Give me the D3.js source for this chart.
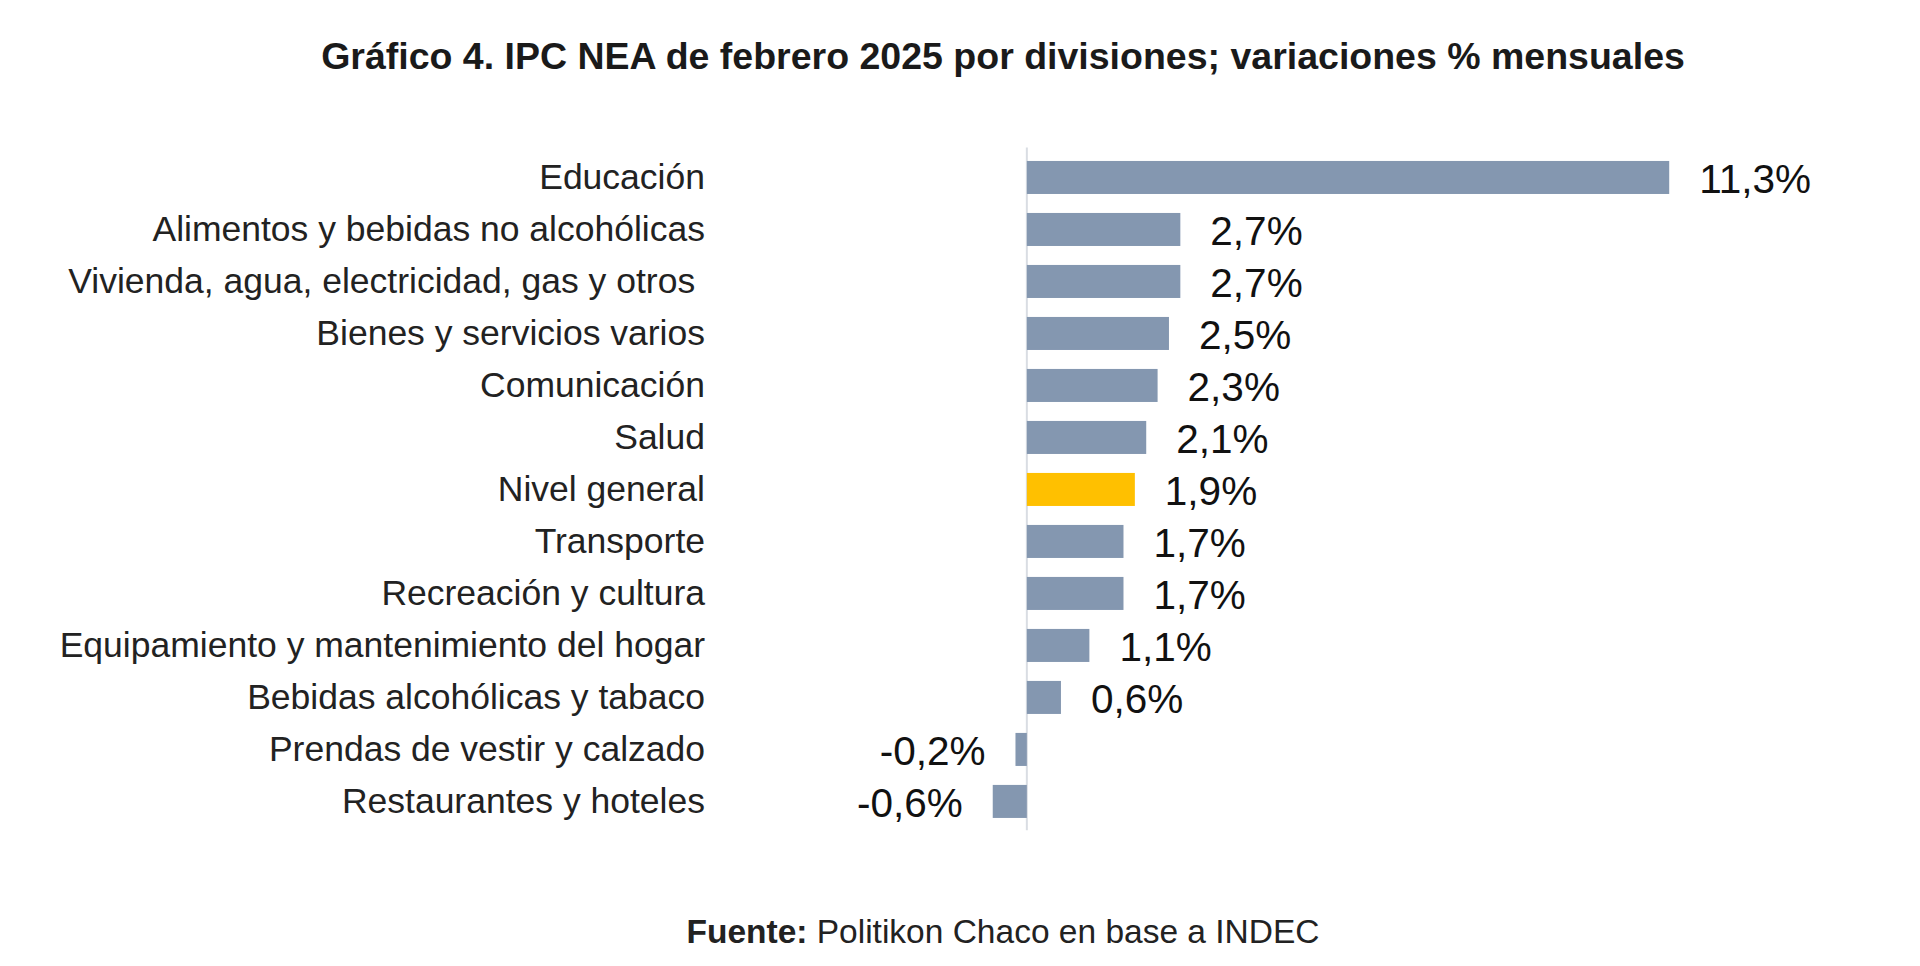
<!DOCTYPE html>
<html>
<head>
<meta charset="utf-8">
<script src="https://cdn.jsdelivr.net/npm/d3@7"></script>
<style>
  html, body { margin: 0; padding: 0; background: #ffffff; }
  svg { display: block; }
  text { font-family: "Liberation Sans", Arial, sans-serif; }
</style>
</head>
<body>
<svg id="chart" width="1920" height="966"></svg>
<script>
const categories = [
  "Educación",
  "Alimentos y bebidas no alcohólicas",
  "Vivienda, agua, electricidad, gas y otros ",
  "Bienes y servicios varios",
  "Comunicación",
  "Salud",
  "Nivel general",
  "Transporte",
  "Recreación y cultura",
  "Equipamiento y mantenimiento del hogar",
  "Bebidas alcohólicas y tabaco",
  "Prendas de vestir y calzado",
  "Restaurantes y hoteles"
];
const values = [11.3, 2.7, 2.7, 2.5, 2.3, 2.1, 1.9, 1.7, 1.7, 1.1, 0.6, -0.2, -0.6];
const highlight = ["Nivel general"];
const titleText = "Gráfico 4. IPC NEA de febrero 2025 por divisiones; variaciones % mensuales";
const sourceBold = "Fuente:";
const sourceText = " Politikon Chaco en base a INDEC";

const data = categories.map((c, i) => ({ cat: c, val: values[i] }));

const svg = d3.select("#chart");

const x = d3.scaleLinear().domain([-1, 12]).range([970, 1709]);
const y = d3.scaleBand().domain(categories).range([151.6, 827.3])
  .paddingInner(0.365).paddingOuter(0.18);

const fmt = v => d3.format(".1f")(v).replace(".", ",").replace("\u2212", "-") + "%";

// Title
svg.append("text")
  .attr("x", 1003).attr("y", 69)
  .attr("text-anchor", "middle")
  .attr("font-size", 37.5).attr("font-weight", "bold")
  .attr("fill", "#1a1a1a")
  .text(titleText);

// zero axis line
svg.append("line")
  .attr("x1", x(0)).attr("x2", x(0))
  .attr("y1", y.range()[0] - 4).attr("y2", y.range()[1] + 3)
  .attr("stroke", "#d9dde3").attr("stroke-width", 2);

// bars
svg.append("g").selectAll("rect").data(data).join("rect")
  .attr("x", d => x(Math.min(0, d.val)))
  .attr("y", d => y(d.cat))
  .attr("width", d => Math.abs(x(d.val) - x(0)))
  .attr("height", y.bandwidth())
  .attr("fill", d => highlight.includes(d.cat) ? "#ffc000" : "#8497b0");

// category labels
svg.append("g").selectAll("text").data(data).join("text")
  .attr("x", 705)
  .attr("y", d => y(d.cat) + y.bandwidth() / 2 + 12)
  .attr("text-anchor", "end")
  .attr("font-size", 35.5)
  .attr("fill", "#222")
  .attr("xml:space", "preserve")
  .style("white-space", "pre")
  .text(d => d.cat);

// value labels
svg.append("g").selectAll("text").data(data).join("text")
  .attr("x", d => d.val >= 0 ? x(d.val) + 30 : x(d.val) - 30)
  .attr("y", d => y(d.cat) + y.bandwidth() / 2 + 16)
  .attr("text-anchor", d => d.val >= 0 ? "start" : "end")
  .attr("font-size", 40.5)
  .attr("fill", "#111")
  .text(d => fmt(d.val));

// source
const src = svg.append("text")
  .attr("x", 1003).attr("y", 943)
  .attr("text-anchor", "middle")
  .attr("font-size", 33.5)
  .attr("fill", "#222")
  .attr("xml:space", "preserve");
src.append("tspan").attr("font-weight", "bold").text(sourceBold);
src.append("tspan").text(sourceText);
</script>
</body>
</html>
